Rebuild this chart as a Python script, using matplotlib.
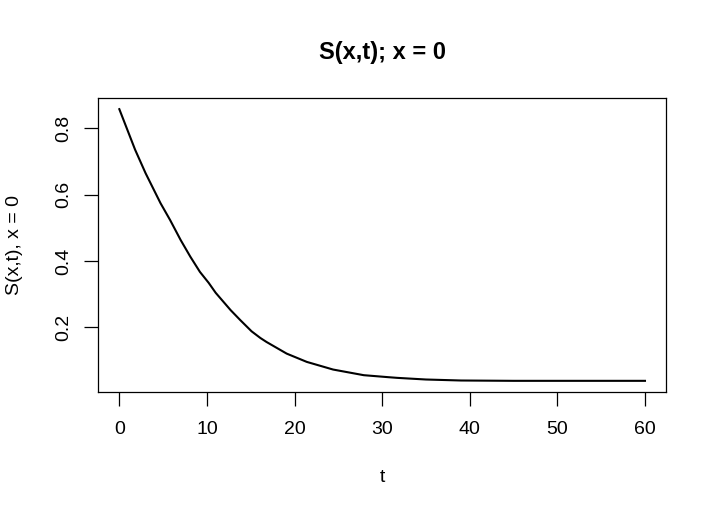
import matplotlib
matplotlib.use("Agg")
import matplotlib.pyplot as plt
import numpy as np

t_vals = [0, 1.8, 3, 4.7, 5.8, 7, 8.1, 9.2, 10.2, 11, 12.7, 13.8, 15.1, 16.1, 16.8, 19.1, 21.4,
          24.4, 27.9, 30.7, 31.7, 33, 35, 39, 45, 50, 55, 60]
s_vals = [0.857, 0.735, 0.664, 0.574, 0.523, 0.463, 0.413, 0.367, 0.334, 0.304, 0.252,
          0.222, 0.188, 0.168, 0.156, 0.121, 0.096, 0.073, 0.056, 0.050, 0.048, 0.046,
          0.043, 0.040, 0.039, 0.039, 0.039, 0.039]
x_ticks = [0, 10, 20, 30, 40, 50, 60]
y_ticks = [0.2, 0.4, 0.6, 0.8]
title = "S(x,t); x = 0"
xlabel = "t"
ylabel = "S(x,t), x = 0"

plt.rcParams['font.family'] = ['Liberation Sans', 'DejaVu Sans']

W, H = 717, 515
fig = plt.figure(figsize=(W / 100, H / 100), dpi=100)
l, r, t, b = 98.3, 666, 98.3, 391.7
ax = fig.add_axes([l / W, 1 - b / H, (r - l) / W, (b - t) / H])

ax.plot(t_vals, s_vals, color='black', lw=1.5)

xmin, xmax = min(t_vals), max(t_vals)
ymin, ymax = min(s_vals), max(s_vals)
px = (xmax - xmin) * 0.04
py = (ymax - ymin) * 0.04
ax.set_xlim(xmin - px, xmax + px)
ax.set_ylim(ymin - py, ymax + py)

ax.set_xticks(x_ticks)
ax.set_xticklabels([str(v) for v in x_ticks])
ax.set_yticks(y_ticks)
ax.set_yticklabels([f"{v:.1f}" for v in y_ticks], rotation=90, va='center')

for s in ax.spines.values():
    s.set_linewidth(0.9)
ax.tick_params(axis='both', length=10, width=0.9, labelsize=14, color='black')
ax.tick_params(axis='x', pad=11)
ax.tick_params(axis='y', pad=9)

fig.text((l + r) / 2 / W, 1 - 52 / H, title, ha='center', va='center',
         fontsize=17, fontweight='bold')
fig.text((l + r) / 2 / W, 1 - 478 / H, xlabel, ha='center', va='center', fontsize=14)
fig.text(15 / W, 1 - 245 / H, ylabel, ha='center', va='center', fontsize=14, rotation=90)

fig.savefig("out.png", dpi=100)
